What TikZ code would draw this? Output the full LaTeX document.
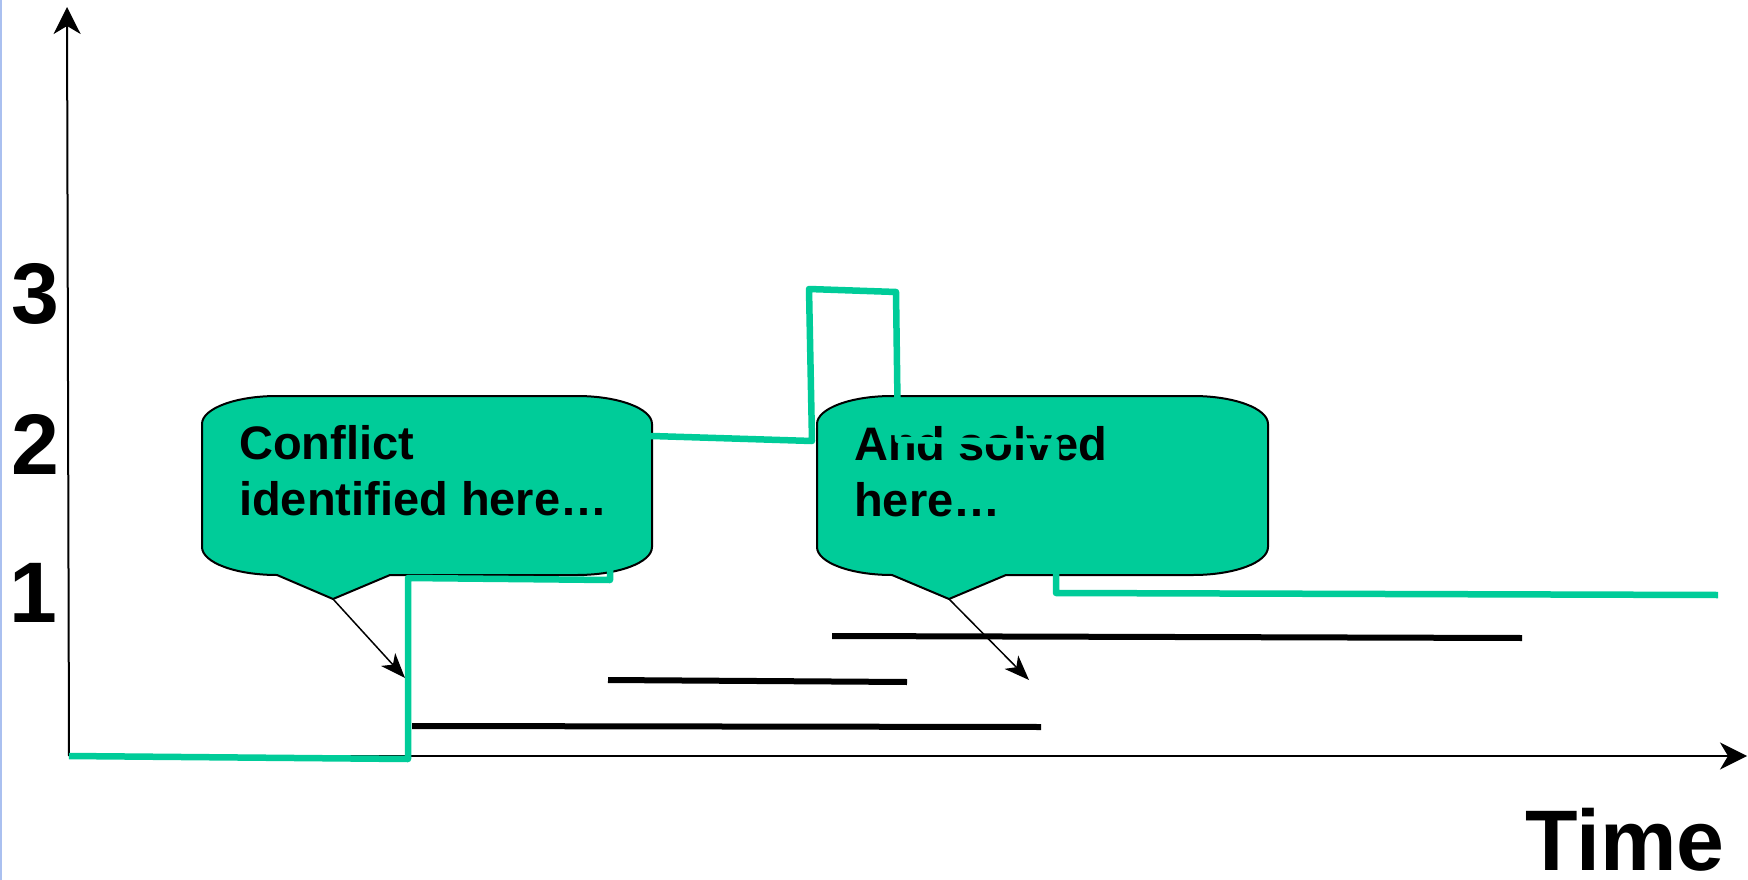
\documentclass[tikz,border=0pt]{standalone}
\usepackage{fontspec}
\setmainfont{Liberation Sans}
\usetikzlibrary{arrows.meta}
\definecolor{callgreen}{RGB}{0,204,153}
\definecolor{edgeblue}{RGB}{170,192,240}
\tikzset{
  callout/.style={fill=callgreen, draw=black, line width=2pt, line join=round},
  greenline/.style={draw=callgreen, line width=6.5pt, line join=round},
  bar/.style={draw=black, line width=6pt},
  axis/.style={draw=black, line width=2pt, -{Stealth[length=27pt,width=27pt,inset=8pt]}},
  pointer/.style={draw=black, line width=1.5pt, -{Stealth[length=25pt,width=19pt,inset=7pt]}},
  calltext/.style={font=\fontsize{47}{56.5}\selectfont\bfseries, align=left, inner sep=0pt, anchor=north west},
  bigtext/.style={font=\fontsize{86}{90}\selectfont\bfseries, inner sep=0pt}
}
\newcommand\callshape[7]{%
  \path[callout] ({#2},{#4+28}) .. controls ({#2},{#4+12.5}) and ({#2+33.6},{#4}) .. ({#2+75},{#4})
   -- ({#3-75},{#4}) .. controls ({#3-33.6},{#4}) and ({#3},{#4+12.5}) .. ({#3},{#4+28})
   -- ({#3},{#5-28}) .. controls ({#3},{#5-12.5}) and ({#3-33.6},{#5}) .. ({#3-75},{#5})
   -- ({#6+57},{#5}) -- ({#6},{#7}) coordinate (#1) -- ({#2+75},{#5})
   .. controls ({#2+33.6},{#5}) and ({#2},{#5-12.5}) .. ({#2},{#5-28}) -- cycle;}
\begin{document}
\begin{tikzpicture}[x=1pt, y=-1pt]
\useasboundingbox[fill=white] (0,0) rectangle (1748,880);
\draw[edgeblue, line width=2pt] (1,0) -- (1,880);

% axes
\coordinate (origin) at (69,756);
\coordinate (ytop) at (67,7);
\coordinate (xend) at (1747,756);
\draw[axis] (origin) -- (ytop);
\draw[axis] (origin) -- (xend);

% axis labels
\node[bigtext] (l3) at (35,294) {3};
\node[bigtext] (l2) at (35,444) {2};
\node[bigtext] (l1) at (33,593) {1};
\node[bigtext, anchor=base west] (time) at (1525,870) {Time};

% callouts
\callshape{tip1}{202}{652}{396}{575}{333}{599}
\node[calltext] (t1) at (239,425) {Conflict\\identified here…};
\callshape{tip2}{817}{1268}{396}{575}{949}{599}
\node[calltext] (t2) at (854,426) {And solved\\here…};

% green trace
\draw[greenline] (69,756) -- (408,759) -- (408,578) -- (610,580) -- (610,436)
  -- (652,436) -- (812,441) -- (809,289) -- (896,292) -- (898,440)
  -- (1056,442) -- (1056,593) -- (1718,595);

% black bars
\draw[bar] (832,636) -- (1522,638);
\draw[bar] (608,680) -- (907,682);
\draw[bar] (412,726) -- (1041,727);

% pointers
\coordinate (end1) at (405,678);
\coordinate (end2) at (1029,680);
\draw[pointer] (tip1) -- (end1);
\draw[pointer] (tip2) -- (end2);
\end{tikzpicture}
\end{document}
